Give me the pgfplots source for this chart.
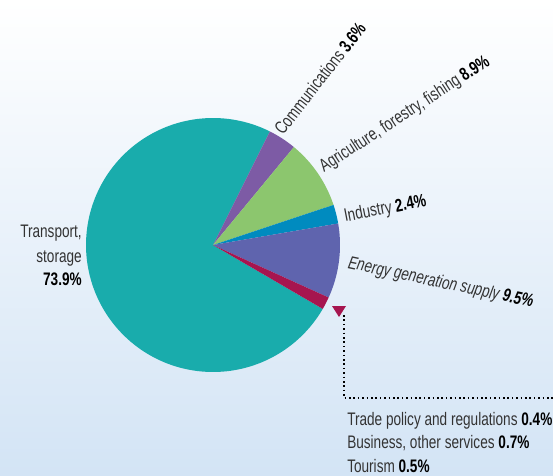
\documentclass[border=0pt]{standalone}
\usepackage{pgfplots}
\pgfplotsset{compat=1.18}
\usepackage{fontspec}
\setmainfont{Liberation Sans}[FakeStretch=0.75]
\definecolor{cTrans}{HTML}{19ACAC}
\definecolor{cComm}{HTML}{7D5BA5}
\definecolor{cAgri}{HTML}{8CC66E}
\definecolor{cInd}{HTML}{008BBF}
\definecolor{cEner}{HTML}{5F64AE}
\definecolor{cOther}{HTML}{A6154F}
\definecolor{bgB}{HTML}{D3E4F5}
\definecolor{txt}{HTML}{333333}
% shares in percent (clockwise from the start angle)
\def\sComm{3.6}
\def\sAgri{8.9}
\def\sInd{2.4}
\def\sEner{9.5}
\def\sOther{1.6}% 0.4 + 0.7 + 0.5
\def\sTrans{73.9}
\def\startangle{63.4}
\pgfmathsetmacro\aA{\startangle}
\pgfmathsetmacro\aB{\aA-3.6*\sComm}
\pgfmathsetmacro\aC{\aB-3.6*\sAgri}
\pgfmathsetmacro\aD{\aC-3.6*\sInd}
\pgfmathsetmacro\aE{\aD-3.6*\sEner}
\pgfmathsetmacro\aF{\aE-3.6*\sOther}
\pgfmathsetmacro\aG{\aA-360}
\begin{document}
\begin{tikzpicture}
\useasboundingbox (0,0) rectangle (414.75pt,-356.25pt);
\shade[top color=white, bottom color=bgB] (0,0) rectangle (414.75pt,-356.25pt);
\begin{axis}[at={(159.75pt,-183.75pt)}, anchor=center, x=95.25pt, y=95.25pt,
  xmin=-1, xmax=1, ymin=-1, ymax=1, hide axis, clip=false]
\addplot[fill=cTrans, draw=none, domain=\aG:\aF, samples=150, variable=\t] ({cos(\t)},{sin(\t)}) -- (axis cs:0,0) -- cycle;
\addplot[fill=cComm, draw=none, domain=\aB:\aA, samples=20, variable=\t] ({cos(\t)},{sin(\t)}) -- (axis cs:0,0) -- cycle;
\addplot[fill=cAgri, draw=none, domain=\aC:\aB, samples=30, variable=\t] ({cos(\t)},{sin(\t)}) -- (axis cs:0,0) -- cycle;
\addplot[fill=cInd, draw=none, domain=\aD:\aC, samples=15, variable=\t] ({cos(\t)},{sin(\t)}) -- (axis cs:0,0) -- cycle;
\addplot[fill=cEner, draw=none, domain=\aE:\aD, samples=30, variable=\t] ({cos(\t)},{sin(\t)}) -- (axis cs:0,0) -- cycle;
\addplot[fill=cOther, draw=none, domain=\aF:\aE, samples=10, variable=\t] ({cos(\t)},{sin(\t)}) -- (axis cs:0,0) -- cycle;
\end{axis}
\begin{scope}[x=0.75pt, y=-0.75pt, every node/.style={inner sep=0pt, text=txt, font=\fontsize{13.6}{16}\selectfont}]
\node[anchor=base west, rotate=52] at (283,136) {Communications \textbf{\color{black}3.6\%}};
\node[anchor=base west, rotate=33] at (324,173) {Agriculture, forestry, fishing \textbf{\color{black}8.9\%}};
\node[anchor=base west, rotate=11] at (345,222) {Industry \textbf{\color{black}2.4\%}};
\node[anchor=base west, rotate=-12] at (347,268) {\itshape Energy generation supply \textbf{\color{black}9.5\%}};
\node[anchor=base east] at (82,237) {Transport,};
\node[anchor=base east] at (82,262) {storage};
\node[anchor=base east] at (82,285) {\textbf{\color{black}73.9\%}};
\node[anchor=base west] at (347,425) {Trade policy and regulations \textbf{\color{black}0.4\%}};
\node[anchor=base west] at (347,448) {Business, other services \textbf{\color{black}0.7\%}};
\node[anchor=base west] at (347,472) {Tourism \textbf{\color{black}0.5\%}};
\fill[cOther] (332,306) -- (346,306) -- (339,317) -- cycle;
\draw[black, line width=1.2pt, dash pattern=on 1.2pt off 2.1pt] (344,315) -- (344,398) -- (560,398);
\end{scope}
\end{tikzpicture}
\end{document}
